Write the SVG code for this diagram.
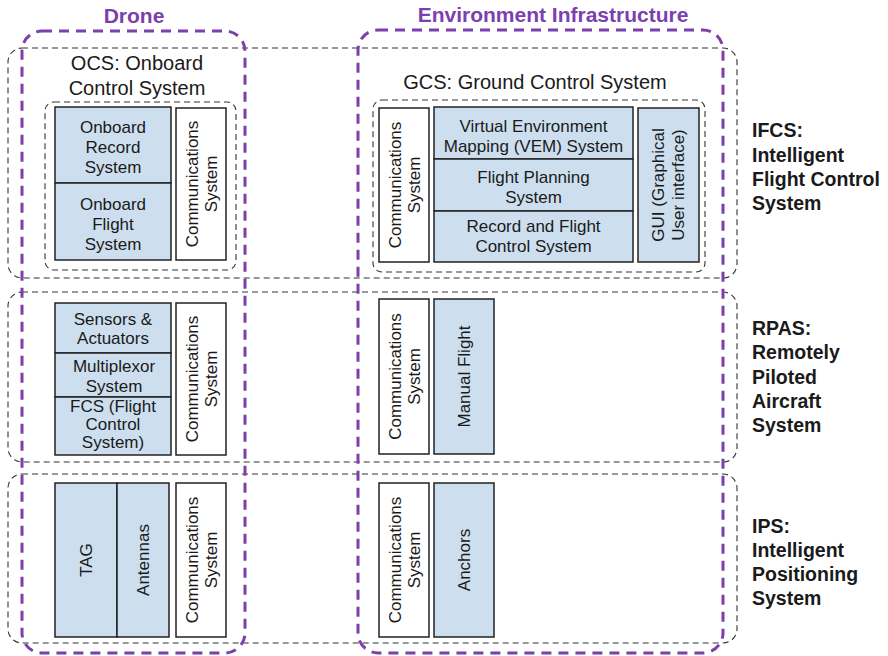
<svg xmlns="http://www.w3.org/2000/svg" width="888" height="656" viewBox="0 0 888 656">
<style>
text{font-family:"Liberation Sans",Arial,sans-serif;fill:#1a1a1a}
.t{font-size:17px;text-anchor:middle}
.h{font-size:20px;text-anchor:middle}
.lab{font-size:19.5px;font-weight:bold}
.title{font-size:21px;font-weight:bold;fill:#7b3fae;text-anchor:middle}
.row{fill:none;stroke:#333;stroke-width:1.1;stroke-dasharray:6 4}
.grp{fill:none;stroke:#333;stroke-width:1.1;stroke-dasharray:6 4}
.area{fill:none;stroke:#7b3fae;stroke-width:3;stroke-dasharray:10 7}
.b{fill:#cddfee;stroke:#222;stroke-width:1.5}
.w{fill:#fff;stroke:#222;stroke-width:1.5}
</style>

<g id="row-ifcs">
<rect class="row" x="8" y="48" width="729" height="230" rx="14"/>
<text class="lab"><tspan x="752" y="137">IFCS:</tspan><tspan x="752" y="162">Intelligent</tspan><tspan x="752" y="186">Flight Control</tspan><tspan x="752" y="210">System</tspan></text>
</g>
<g id="row-rpas">
<rect class="row" x="8" y="292" width="729" height="170" rx="14"/>
<text class="lab"><tspan x="752" y="335">RPAS:</tspan><tspan x="752" y="359">Remotely</tspan><tspan x="752" y="384">Piloted</tspan><tspan x="752" y="408">Aircraft</tspan><tspan x="752" y="432">System</tspan></text>
</g>
<g id="row-ips">
<rect class="row" x="8" y="474" width="729" height="169" rx="14"/>
<text class="lab"><tspan x="752" y="533">IPS:</tspan><tspan x="752" y="557">Intelligent</tspan><tspan x="752" y="581">Positioning</tspan><tspan x="752" y="605">System</tspan></text>
</g>

<g id="area-drone">
<rect class="area" x="22" y="31" width="223" height="622" rx="20"/>
<text class="title" x="134" y="23">Drone</text>
</g>
<g id="area-env">
<rect class="area" x="358" y="30" width="365" height="623" rx="20"/>
<text class="title" x="553" y="22">Environment Infrastructure</text>
</g>

<g id="ocs">
<text class="h"><tspan x="137" y="70">OCS: Onboard</tspan><tspan x="137" y="95">Control System</tspan></text>
<rect class="grp" x="45" y="102" width="191" height="168" rx="9"/>
</g>
<g id="onboard-record">
<rect class="b" x="55" y="107" width="116" height="76"/>
<text class="t"><tspan x="113" y="133">Onboard</tspan><tspan x="113" y="153">Record</tspan><tspan x="113" y="173">System</tspan></text>
</g>
<g id="onboard-flight">
<rect class="b" x="55" y="183" width="116" height="77"/>
<text class="t"><tspan x="113" y="210">Onboard</tspan><tspan x="113" y="230">Flight</tspan><tspan x="113" y="250">System</tspan></text>
</g>
<g id="ocs-comms">
<rect class="w" x="176" y="108" width="50" height="152"/>
<text class="t" transform="translate(201,184) rotate(-90)"><tspan x="0" y="-3">Communications</tspan><tspan x="0" y="16">System</tspan></text>
</g>

<g id="gcs">
<text class="h" x="535" y="89">GCS: Ground Control System</text>
<rect class="grp" x="373" y="100" width="332" height="172" rx="9"/>
</g>
<g id="gcs-comms">
<rect class="w" x="379" y="108" width="50" height="154"/>
<text class="t" transform="translate(404,185) rotate(-90)"><tspan x="0" y="-3">Communications</tspan><tspan x="0" y="16">System</tspan></text>
</g>
<g id="vem">
<rect class="b" x="434" y="107" width="199" height="52"/>
<text class="t"><tspan x="533.5" y="132">Virtual Environment</tspan><tspan x="533.5" y="152">Mapping (VEM) System</tspan></text>
</g>
<g id="flight-planning">
<rect class="b" x="434" y="159" width="199" height="52"/>
<text class="t"><tspan x="533.5" y="183">Flight Planning</tspan><tspan x="533.5" y="203">System</tspan></text>
</g>
<g id="record-flight-control">
<rect class="b" x="434" y="211" width="199" height="51"/>
<text class="t"><tspan x="533.5" y="232">Record and Flight</tspan><tspan x="533.5" y="252">Control System</tspan></text>
</g>
<g id="gui">
<rect class="b" x="638" y="108" width="61" height="154"/>
<text class="t" transform="translate(668,185) rotate(-90)"><tspan x="0" y="-4">GUI (Graphical</tspan><tspan x="0" y="16">User interface)</tspan></text>
</g>

<g id="sensors">
<rect class="b" x="55" y="303" width="116" height="50"/>
<text class="t"><tspan x="113" y="325">Sensors &amp;</tspan><tspan x="113" y="344">Actuators</tspan></text>
</g>
<g id="multiplexor">
<rect class="b" x="55" y="353" width="116" height="44"/>
<text class="t"><tspan x="114" y="372">Multiplexor</tspan><tspan x="114" y="392">System</tspan></text>
</g>
<g id="fcs">
<rect class="b" x="55" y="397" width="116" height="58"/>
<text class="t"><tspan x="113" y="412">FCS (Flight</tspan><tspan x="113" y="430">Control</tspan><tspan x="113" y="448">System)</tspan></text>
</g>
<g id="rpas-drone-comms">
<rect class="w" x="176" y="303" width="50" height="152"/>
<text class="t" transform="translate(201,379) rotate(-90)"><tspan x="0" y="-3">Communications</tspan><tspan x="0" y="16">System</tspan></text>
</g>
<g id="rpas-env-comms">
<rect class="w" x="379" y="299" width="50" height="155"/>
<text class="t" transform="translate(404,376.5) rotate(-90)"><tspan x="0" y="-3">Communications</tspan><tspan x="0" y="16">System</tspan></text>
</g>
<g id="manual-flight">
<rect class="b" x="434" y="299" width="60" height="155"/>
<text class="t" transform="translate(464,376.5) rotate(-90)" x="0" y="6">Manual Flight</text>
</g>

<g id="tag">
<rect class="b" x="55" y="483" width="62" height="154"/>
<text class="t" transform="translate(86,560) rotate(-90)" x="0" y="6">TAG</text>
</g>
<g id="antennas">
<rect class="b" x="117" y="483" width="52" height="154"/>
<text class="t" transform="translate(143,560) rotate(-90)" x="0" y="6">Antennas</text>
</g>
<g id="ips-drone-comms">
<rect class="w" x="176" y="483" width="50" height="154"/>
<text class="t" transform="translate(201,560) rotate(-90)"><tspan x="0" y="-3">Communications</tspan><tspan x="0" y="16">System</tspan></text>
</g>
<g id="ips-env-comms">
<rect class="w" x="379" y="483" width="50" height="154"/>
<text class="t" transform="translate(404,560) rotate(-90)"><tspan x="0" y="-3">Communications</tspan><tspan x="0" y="16">System</tspan></text>
</g>
<g id="anchors">
<rect class="b" x="434" y="483" width="60" height="154"/>
<text class="t" transform="translate(464,560) rotate(-90)" x="0" y="6">Anchors</text>
</g>
</svg>
